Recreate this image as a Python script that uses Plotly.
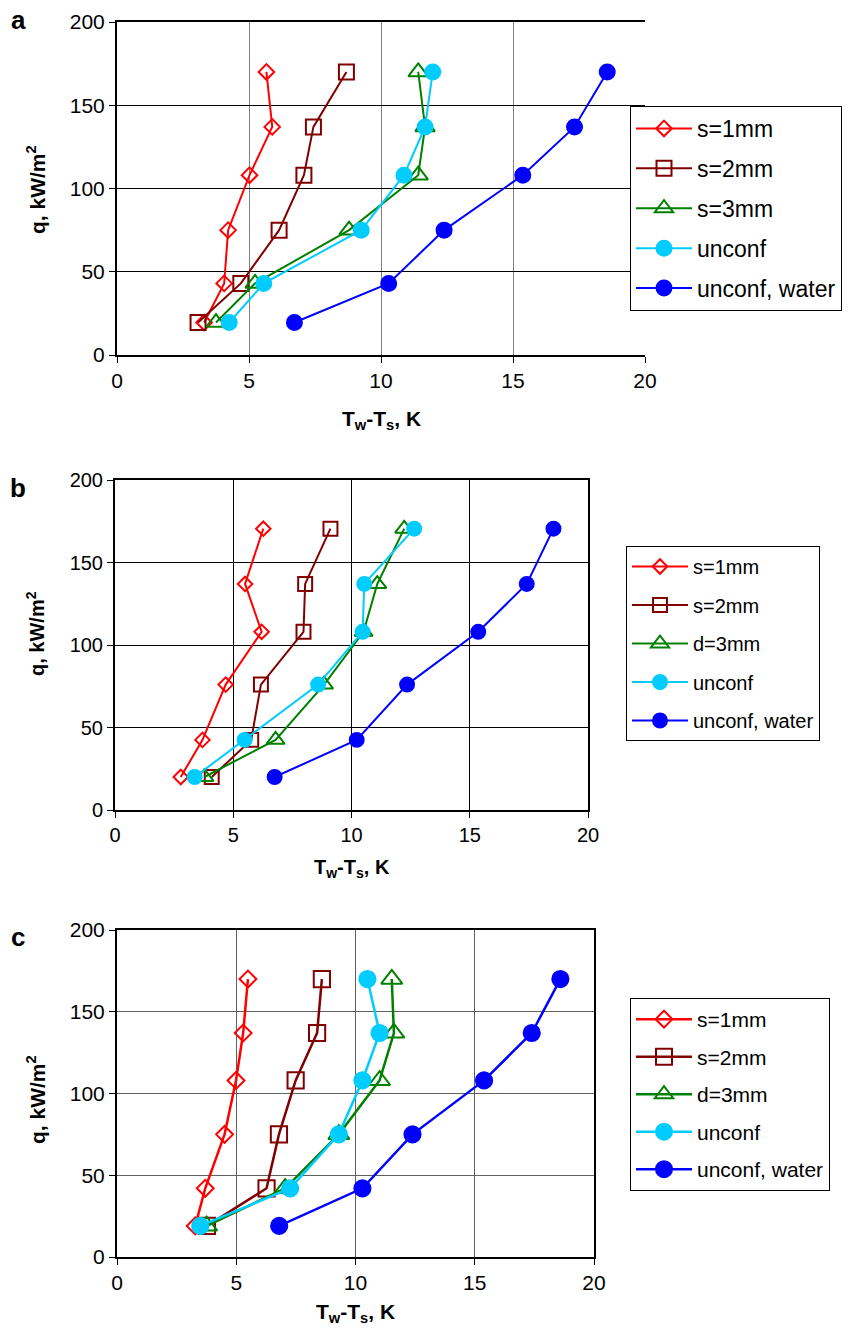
import plotly.graph_objects as go

W, H = 853, 1328

# ---------------- data ----------------
SERIES_NAMES_A = ["s=1mm", "s=2mm", "s=3mm", "unconf", "unconf, water"]
SERIES_NAMES_BC = ["s=1mm", "s=2mm", "d=3mm", "unconf", "unconf, water"]

q_a = [19.5, 43, 75, 108, 137, 170]
s1_a = [3.30, 4.06, 4.21, 5.02, 5.88, 5.66]
s2_a = [3.07, 4.69, 6.14, 7.08, 7.44, 8.69]
s3_a = [3.75, 5.23, 8.79, 11.41, 11.67, 11.41]
unc_a = [4.25, 5.56, 9.25, 10.87, 11.67, 11.96]
wat_a = [6.72, 10.29, 12.39, 15.37, 17.33, 18.57]

q_b = [20, 42.5, 76, 108, 137, 170.5]
s1_b = [2.78, 3.70, 4.68, 6.20, 5.50, 6.27]
s2_b = [4.09, 5.76, 6.17, 7.97, 8.04, 9.11]
d3_b = [3.78, 6.79, 8.84, 10.51, 11.09, 12.23]
unc_b = [3.37, 5.48, 8.59, 10.47, 10.54, 12.65]
wat_b = [6.75, 10.22, 12.35, 15.36, 17.41, 18.54]

q_c = [19, 42, 75, 108, 137, 170]
s1_c = [3.28, 3.70, 4.51, 4.99, 5.29, 5.49]
s2_c = [3.77, 6.27, 6.79, 7.49, 8.39, 8.59]
d3_c = [3.76, 7.05, 9.30, 11.01, 11.61, 11.52]
unc_c = [3.49, 7.26, 9.30, 10.29, 11.01, 10.50]
wat_c = [6.80, 10.29, 12.39, 15.39, 17.39, 18.59]

x_ticks = [0, 5, 10, 15, 20]
y_ticks = [0, 50, 100, 150, 200]

# ---------------- styles ----------------
COLORS = ["#FF0000", "#800000", "#008000", "#00CCFF", "#0000FF"]
SYMBOLS = ["diamond-open", "square-open", "triangle-up-open", "circle", "circle"]
BASE_SIZE = {"diamond-open": 12, "square-open": 15, "triangle-up-open": 17, "circle": 15}


def px_x(p):
    return p / W


def px_y(p):
    return 1 - p / H


FONT = "Arial, Liberation Sans, sans-serif"

panels = [
    dict(key="a", xa="x", ya="y", lg="legend", q=q_a,
         data=[s1_a, s2_a, s3_a, unc_a, wat_a], names=SERIES_NAMES_A,
         box=(117, 645, 22, 355), leg=(630, 106), ms=1.0, lw=2, lfont=23, lgap=7,
         tfont=21, xgrid="#808080", ygrid="#000000", mirror_y=False,
         xt=(381, 420), yt=(36, 190), lab=(18, 20)),
    dict(key="b", xa="x2", ya="y2", lg="legend2", q=q_b,
         data=[s1_b, s2_b, d3_b, unc_b, wat_b], names=SERIES_NAMES_BC,
         box=(115, 588, 480, 810), leg=(626, 546), ms=0.93, lw=2, lfont=20, lgap=9.5,
         tfont=20, xgrid="#000000", ygrid="#000000", mirror_y=True,
         xt=(352, 868), yt=(36, 634), lab=(18, 488)),
    dict(key="c", xa="x3", ya="y3", lg="legend3", q=q_c,
         data=[s1_c, s2_c, d3_c, unc_c, wat_c], names=SERIES_NAMES_BC,
         box=(117, 594, 930, 1257), leg=(630, 998), ms=1.08, lw=2.5, lfont=21, lgap=7.2,
         tfont=21, xgrid="#606060", ygrid="#606060", mirror_y=True,
         xt=(355, 1313), yt=(36, 1100), lab=(18, 937)),
]

fig = go.Figure()
annotations = []
layout_axes = {}

for p in panels:
    for i, (xs, nm) in enumerate(zip(p["data"], p["names"])):
        sym = SYMBOLS[i]
        fig.add_trace(go.Scatter(
            x=xs, y=p["q"], name=nm, mode="lines+markers",
            xaxis=p["xa"], yaxis=p["ya"], legend=p["lg"],
            legendgroup=p["key"] + str(i),
            line=dict(color=COLORS[i], width=p["lw"]),
            marker=dict(symbol=sym, size=BASE_SIZE[sym] * p["ms"], color=COLORS[i],
                        line=dict(color=COLORS[i], width=2)),
        ))
    l, r, t, b = p["box"]
    xname = "xaxis" if p["xa"] == "x" else "xaxis" + p["xa"][1:]
    yname = "yaxis" if p["ya"] == "y" else "yaxis" + p["ya"][1:]
    layout_axes[xname] = dict(
        domain=[px_x(l), px_x(r)], range=[0, 20], anchor=p["ya"],
        tickvals=x_ticks, showgrid=True, gridcolor=p["xgrid"], gridwidth=1,
        showline=True, linecolor="black", linewidth=2, mirror=True,
        ticks="outside", ticklen=6, tickcolor="black", tickwidth=1,
        tickfont=dict(family=FONT, size=p["tfont"], color="black"), zeroline=False,
    )
    layout_axes[yname] = dict(
        domain=[px_y(b), px_y(t)], range=[0, 200], anchor=p["xa"],
        tickvals=y_ticks, showgrid=True, gridcolor=p["ygrid"], gridwidth=1,
        showline=True, linecolor="black", linewidth=2, mirror=p["mirror_y"],
        ticks="outside", ticklen=6, tickcolor="black", tickwidth=1,
        tickfont=dict(family=FONT, size=p["tfont"], color="black"), zeroline=False,
    )
    lx, ly = p["leg"]
    layout_axes[p["lg"]] = dict(
        x=px_x(lx), y=px_y(ly), xanchor="left", yanchor="top",
        xref="paper", yref="paper",
        bgcolor="white", bordercolor="black", borderwidth=1,
        font=dict(family=FONT, size=p["lfont"], color="black"),
        tracegroupgap=p["lgap"], itemwidth=56,
    )
    annotations.append(dict(
        x=px_x(p["xt"][0]), y=px_y(p["xt"][1]), xref="paper", yref="paper",
        text="<b>T<sub>w</sub>-T<sub>s</sub>, K</b>", showarrow=False,
        font=dict(family=FONT, size=p["tfont"], color="black"),
        xanchor="center", yanchor="middle"))
    annotations.append(dict(
        x=px_x(p["yt"][0]), y=px_y(p["yt"][1]), xref="paper", yref="paper",
        text="<b>q, kW/m<sup>2</sup></b>", showarrow=False, textangle=-90,
        font=dict(family=FONT, size=p["tfont"], color="black"),
        xanchor="center", yanchor="middle"))
    annotations.append(dict(
        x=px_x(p["lab"][0]), y=px_y(p["lab"][1]), xref="paper", yref="paper",
        text="<b>" + p["key"] + "</b>", showarrow=False,
        font=dict(family=FONT, size=26, color="black"),
        xanchor="center", yanchor="middle"))

fig.update_layout(
    width=W, height=H, margin=dict(l=0, r=0, t=0, b=0, autoexpand=False),
    paper_bgcolor="white", plot_bgcolor="white",
    annotations=annotations, showlegend=True,
    **layout_axes,
)

fig.write_html("out.html",
               post_script="document.body.style.margin='0px';document.body.style.overflow='hidden';")
